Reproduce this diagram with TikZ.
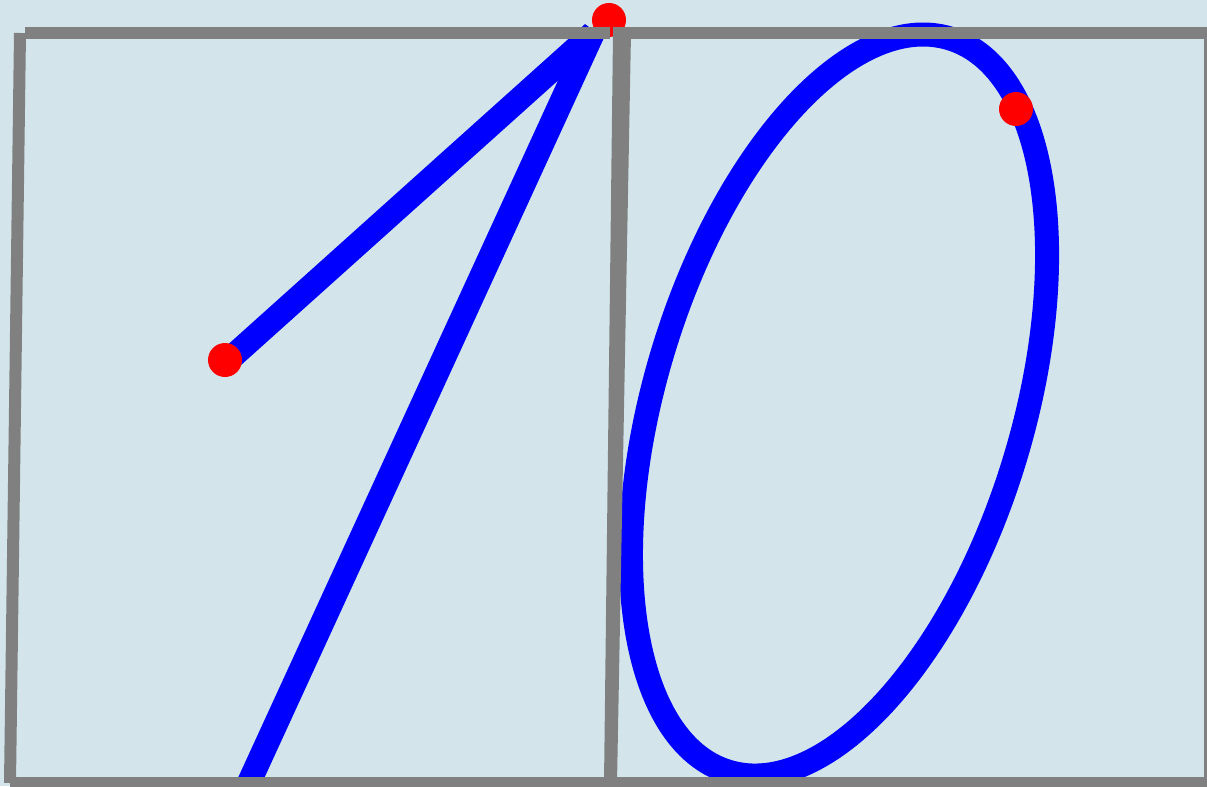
\documentclass[tikz,border=0pt]{standalone}
\usepackage{tikz}

\definecolor{paper}{RGB}{211,229,234}
\definecolor{framegray}{RGB}{128,128,128}

\begin{document}
\begin{tikzpicture}[
  frame/.style={draw=framegray, line width=0.24cm, line cap=butt},
  inkstroke/.style={draw=blue, line width=0.48cm, line cap=butt, line join=bevel},
  pendot/.style={circle, fill=red, minimum size=0.68cm, inner sep=0pt}
]

% Canvas: light sheet, 1207 x 786 px at 0.02 cm per px.
\useasboundingbox (0,0) rectangle (24.14,15.72);
\fill[paper] (0,0) rectangle (24.14,15.72);
\clip (0,0) rectangle (24.14,15.72);

% Digit one: short flag stroke and long down stroke.
\coordinate (flag) at (4.44,8.40);
\coordinate (apex) at (11.86,15.06);
\coordinate (foot) at (4.82,-0.28);
\draw[inkstroke] (flag) -- (apex) -- (foot);

% Digit zero: slanted ellipse.
\coordinate (zero) at (16.78,7.62);
\draw[inkstroke, rotate around={73.2:(zero)}]
  (zero) ellipse [x radius=7.66, y radius=3.68];

% Stroke points.
\node[pendot] (p1) at (12.18,15.32) {};
\node[pendot] (p2) at (4.50,8.52) {};
\node[pendot] (p3) at (20.32,13.54) {};

% Two cell frames, hand-drawn edges.
\draw[frame] (0.40,15.06) -- (0.20,0.06);
\draw[frame] (0.50,15.06) -- (12.20,15.06);
\draw[frame] (12.38,15.06) -- (12.20,0.06);
\draw[frame] (12.50,15.06) -- (12.22,0.06);
\draw[frame] (12.26,15.06) -- (24.20,15.06);
\draw[frame] (24.20,15.06) -- (24.20,0.06);
\draw[frame] (0.20,0.06) -- (24.20,0.06);

\end{tikzpicture}
\end{document}
